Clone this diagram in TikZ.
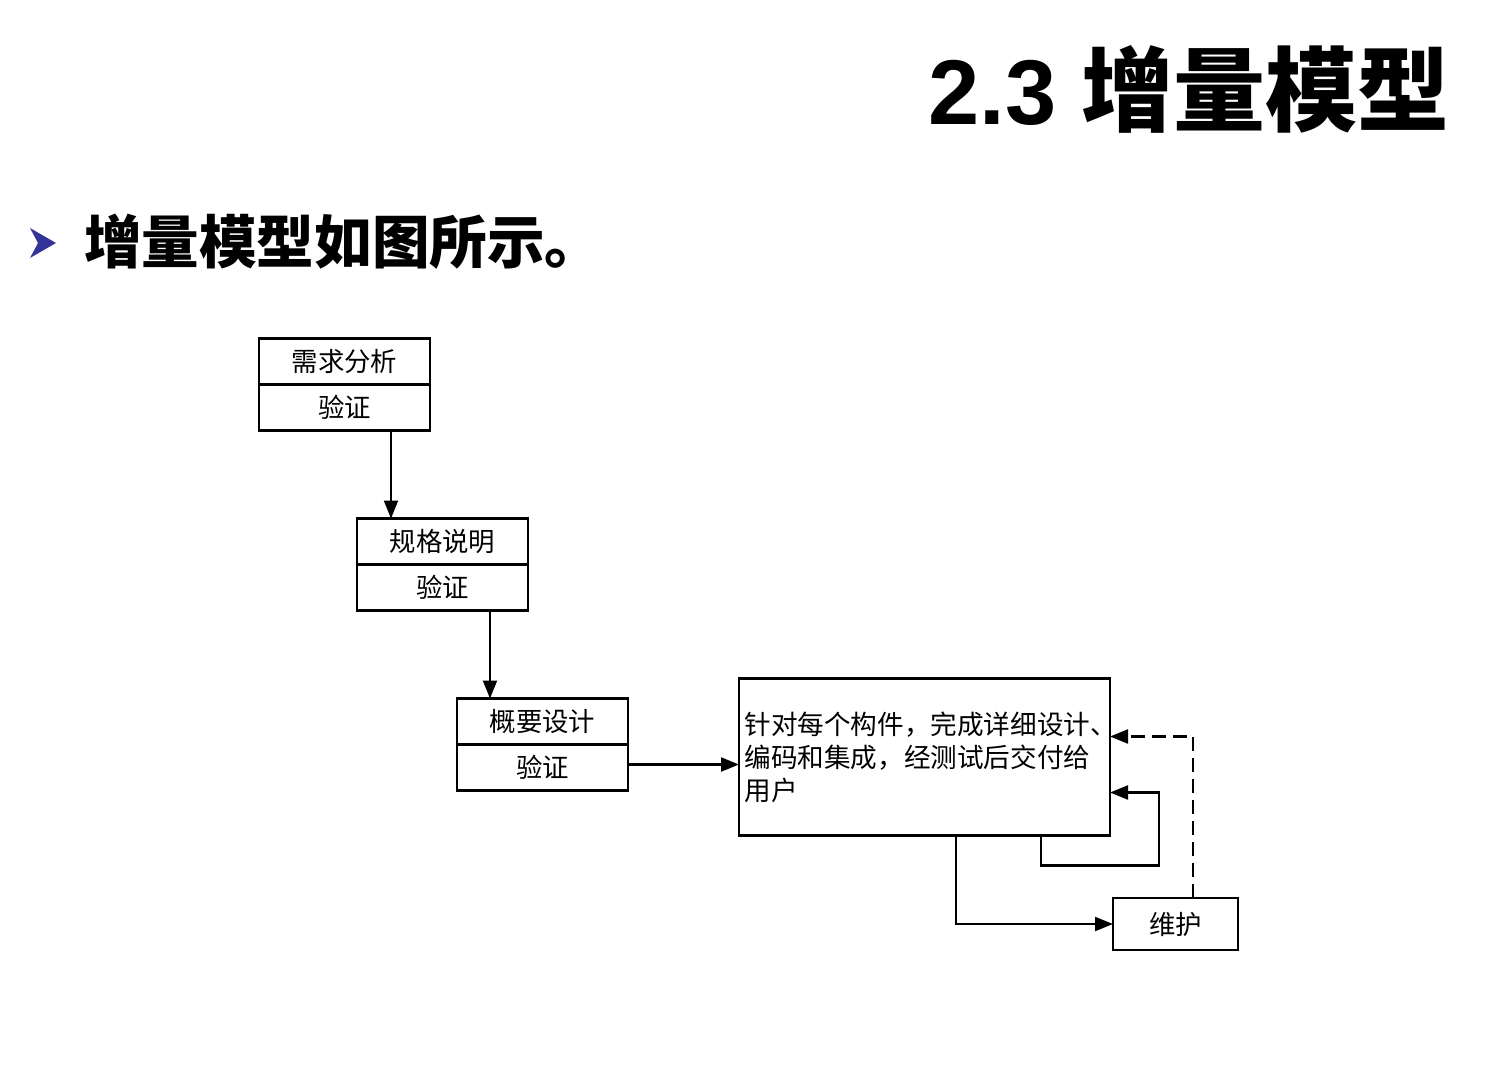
\documentclass[tikz,border=0pt]{standalone}
\usepackage{fontspec}
\setmainfont{Liberation Sans}
\newfontfamily\cjk{Noto Sans CJK SC}
\usepackage{tikz}
\usetikzlibrary{arrows.meta, calc}
\definecolor{bullet}{HTML}{333399}

\begin{document}
\begin{tikzpicture}[
    x=0.5pt, y=-0.5pt,
    cell/.style={draw, line width=1.05pt, minimum width=85.5pt, minimum height=23pt, inner sep=0, outer sep=0, font=\cjk\fontsize{13.2}{15}\selectfont},
    >={Triangle[length=9pt, width=7pt]}, line width=1.05pt]
\useasboundingbox (0,0) rectangle (1509,1082);
% headings
\node[anchor=base east, inner sep=0, font=\bfseries\fontsize{46}{52}\selectfont] (ttl) at (1451,124) {2.3 {\cjk 增量模型}};
\fill[bullet] (30,228) -- (56,243) -- (30,258) -- (38,243) -- cycle;
\node[anchor=west, inner sep=0, font=\cjk\bfseries\fontsize{28.8}{32}\selectfont] (sub) at (83,242) {增量模型如图所示。};
% stages
\node[cell] (r1h) at (344.5,361.5) {需求分析};
\node[cell, anchor=north] (r1v) at (r1h.south) {验证};
\node[cell] (r2h) at (442.5,541.5) {规格说明};
\node[cell, anchor=north] (r2v) at (r2h.south) {验证};
\node[cell] (r3h) at (542.5,721.5) {概要设计};
\node[cell, anchor=north] (r3v) at (r3h.south) {验证};
\node[draw, minimum width=185.5pt, minimum height=78.5pt, text width=180pt, inner xsep=2.75pt, outer sep=0, align=left,
      font=\cjk\fontsize{13.3}{16.5}\selectfont] (big) at (924.5,757)
      {针对每个构件，完成详细设计、\\编码和集成，经测试后交付给\\用户};
\node[cell, minimum width=62.5pt, minimum height=26pt] (wh) at (1175.5,924) {维护};
% connectors
\draw[->] ([xshift=-19.5pt]r1v.south east) -- ([xshift=-19.5pt]r1v.south east |- r2h.north);
\draw[->] ([xshift=-19pt]r2v.south east) -- ([xshift=-19pt]r2v.south east |- r3h.north);
\draw[->] ([yshift=1.5pt]r3v.east) -- ([yshift=1.5pt]r3v.east -| big.west);
\draw[->] ([xshift=108.5pt]big.south west) |- (wh.west);
\draw[->] ([xshift=-34.5pt]big.south east) -- ++(0,30) -| ([xshift=24.5pt, yshift=21.5pt]big.south east) -- ([yshift=21.5pt]big.south east);
\draw[->, dash pattern=on 7pt off 3.5pt] ([xshift=8.75pt]wh.north) |- ([yshift=49.5pt]big.south east);
\end{tikzpicture}
\end{document}
